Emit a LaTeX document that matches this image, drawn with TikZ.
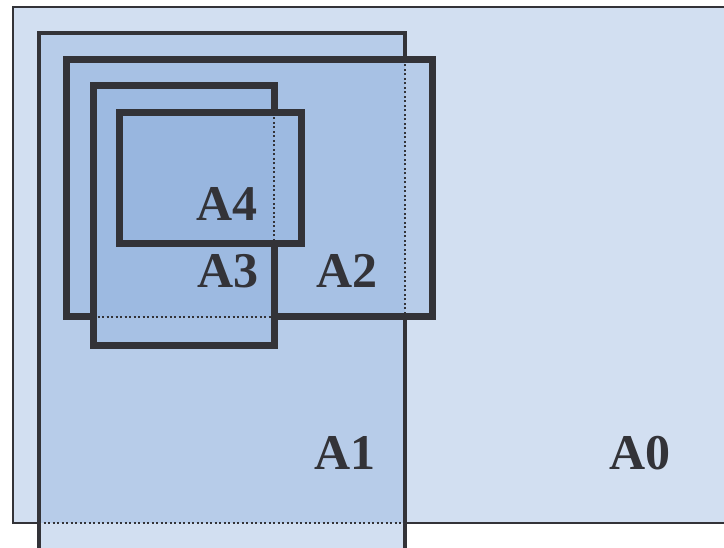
\documentclass[tikz,border=0pt]{standalone}
\usepackage{fontspec}
\setmainfont{Liberation Serif}
\definecolor{dotblue}{RGB}{143,176,220}
\definecolor{edge}{RGB}{51,51,56}
\begin{document}
\begin{tikzpicture}[x=1pt,y=-1pt,
  areafill/.style={fill=dotblue,fill opacity=0.4,draw=none},
  thinedge/.style={draw=edge,line width=2.4pt,line join=miter},
  midedge/.style={draw=edge,line width=3.2pt,line join=miter},
  thickedge/.style={draw=edge,line width=7pt,line join=miter},
  hidden/.style={draw=edge,line width=2pt,dash pattern=on 2pt off 2.5pt},
  lab/.style={font=\fontsize{50}{50}\selectfont\bfseries,text=edge,inner sep=0pt}]
\useasboundingbox (0,0) rectangle (724,548);
\begin{scope}
\clip (0,0) rectangle (724,548);
% fills
\path[areafill] (13,7) rectangle (740,523);
\path[areafill] (39,33) rectangle (405,560);
\path[areafill] (66,60) rectangle (432,317);
\path[areafill] (93,86) rectangle (274,346);
\path[areafill] (119,113) rectangle (301,244);
% A0 border
\draw[thinedge] (39,523) -- (13,523) -- (13,7) -- (740,7);
\draw[thinedge] (405,523) -- (740,523);
\draw[hidden] (39,523) -- (405,523);
% A1 border
\draw[midedge] (405,60) -- (405,33) -- (39,33) -- (39,560);
\draw[midedge] (405,317) -- (405,560);
\draw[hidden] (405,60) -- (405,317);
% A2 border
\draw[thickedge] (93,317) -- (66,317) -- (66,60) -- (432,60) -- (432,317) -- (274,317);
\draw[hidden] (93,317) -- (274,317);
% A3 border
\draw[thickedge] (274,113) -- (274,86) -- (93,86) -- (93,346) -- (274,346) -- (274,244);
\draw[hidden] (274,113) -- (274,244);
% A4 border
\draw[thickedge] (119,113) rectangle (301,244);
\end{scope}
% labels
\node[lab] (a4) at (227,204) {A4};
\node[lab] (a3) at (228,271) {A3};
\node[lab] (a2) at (347,271) {A2};
\node[lab] (a1) at (345,453) {A1};
\node[lab] (a0) at (640,453) {A0};
\end{tikzpicture}
\end{document}
